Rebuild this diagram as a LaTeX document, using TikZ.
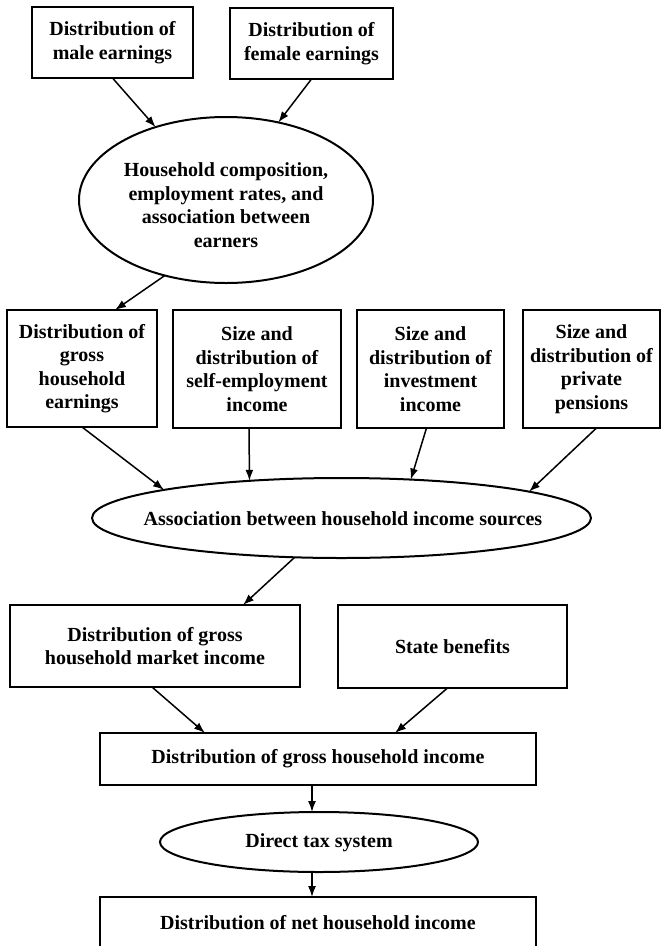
\documentclass[tikz,border=0pt]{standalone}
\usepackage{fontspec}
\setmainfont{Liberation Serif}
\usetikzlibrary{shapes.geometric,calc,arrows.meta}
\begin{document}
\begin{tikzpicture}[x=1pt,y=-1pt,
  every node/.style={font=\fontsize{20}{23.5}\selectfont\bfseries, align=center, inner sep=0pt, outer sep=0pt},
  box/.style={draw, line width=2pt, rectangle},
  oval/.style={draw, line width=2pt, ellipse},
  lbl/.style={},
  arr/.style={-{Latex[length=11pt,width=8pt]}, line width=1.5pt}]
\useasboundingbox (0,0) rectangle (662,946);
\clip (0,0) rectangle (662,946);

% top row
\node[box, minimum width=161pt, minimum height=71pt] (male) at (112.5,42.5) {Distribution of\\male earnings};
\node[box, minimum width=163pt, minimum height=71pt] (female) at (311.5,43.5) {Distribution of\\female earnings};

% ellipse 1
\node[oval, minimum width=294pt, minimum height=166pt] (ell1) at (226,200) {};
\node[lbl] (ell1t) at (226,205) {Household composition,\\employment rates, and\\association between\\earners};

% second row
\node[box, minimum width=150pt, minimum height=117pt] (box1) at (82,368.5) {Distribution of\\gross\\household\\earnings};
\node[box, minimum width=168pt, minimum height=118pt] (box2) at (257,369) {Size and\\distribution of\\self-employment\\income};
\node[box, minimum width=147pt, minimum height=118pt] (box3) at (430.5,369) {Size and\\distribution of\\investment\\income};
\node[box, minimum width=137pt, minimum height=118pt] (box4) at (591.5,369) {Size and\\distribution of\\private\\pensions};

% ellipse 2
\node[oval, minimum width=499pt, minimum height=80pt] (ell2) at (341.5,518) {};
\node[lbl] (ell2t) at (343,519) {Association between household income sources};

% third row
\node[box, minimum width=290pt, minimum height=82pt] (market) at (155,646) {Distribution of gross\\household market income};
\node[box, minimum width=229pt, minimum height=83pt] (state) at (452.5,646.5) {State benefits};

\node[box, minimum width=436pt, minimum height=52pt] (gross) at (318,759) {Distribution of gross household income};

\node[oval, minimum width=318pt, minimum height=60pt] (tax) at (319,842) {};
\node[lbl] (taxt) at (319,843) {Direct tax system};

\node[box, minimum width=436pt, minimum height=52pt] (net) at (318,923) {Distribution of net household income};

% connectors
\draw[arr] (male.south) -- (ell1.134);
\draw[arr] (female.south) -- (ell1.56);
\draw[arr] (ell1.231) -- ($(box1.north)+(33,0)$);
\draw[arr] (box1.south) -- (ell2.171);
\draw[arr] ($(box2.south)+(-8,0)$) -- (ell2.158);
\draw[arr] ($(box3.south)+(-4,0)$) -- (ell2.29);
\draw[arr] ($(box4.south)+(5,0)$) -- (ell2.8.6);
\draw[arr] (ell2.220.5) -- ($(market.north)+(88,0)$);
\draw[arr] ($(market.south)+(-3,0)$) -- ($(gross.north)+(-113,0)$);
\draw[arr] ($(state.south)+(-5,0)$) -- ($(gross.north)+(77,0)$);
\draw[arr] ($(gross.south)+(-6,0)$) -- ($(tax.north)+(-7,0)$);
\draw[arr] ($(tax.south)+(-7,0)$) -- ($(net.north)+(-6,0)$);
\end{tikzpicture}
\end{document}
